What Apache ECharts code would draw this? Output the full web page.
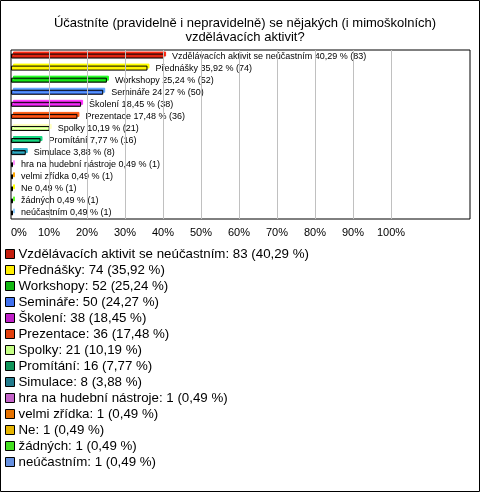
<!DOCTYPE html>
<html><head><meta charset="utf-8">
<script src="https://cdn.jsdelivr.net/npm/echarts@6/dist/echarts.min.js"></script>
<style>html,body{margin:0;padding:0;background:#fff}#c{width:480px;height:492px}</style>
</head><body><div id="c"></div>
<script>
const titleText = 'Účastníte (pravidelně i nepravidelně) se nějakých (i mimoškolních)\nvzdělávacích aktivit?';
const categories = ['Vzdělávacích aktivit se neúčastním','Přednášky','Workshopy','Semináře','Školení','Prezentace','Spolky','Promítání','Simulace','hra na hudební nástroje','velmi zřídka','Ne','žádných','neúčastním'];
const counts = [83,74,52,50,38,36,21,16,8,1,1,1,1,1];
const percents = [40.29,35.92,25.24,24.27,18.45,17.48,10.19,7.77,3.88,0.49,0.49,0.49,0.49,0.49];
const colors = ['#c41e0e','#ffee00','#12b812','#4070ee','#c020c8','#e2400e','#c4ff84','#10955a','#217a8c','#c462c8','#e67200','#e6b400','#44e020','#6690e0'];
const tickValues = [10,20,30,40,50,60,70,80,90,100];
const fmt = v => v.toFixed(2).replace('.', ',');

const chart = echarts.init(document.getElementById('c'), null, {renderer:'canvas'});
const FONT = '"Liberation Sans", Arial, sans-serif';
const series = categories.map((name, i) => {
  const data = categories.map((c, j) => j === i ? percents[i] : '-');
  const s = {
    name: name, type: 'bar', stack: 'all', barWidth: 5, barMinHeight: 2,
    data: data,
    itemStyle: {color: colors[i], borderColor: '#000', borderWidth: 1,
      shadowColor: echarts.color.lift(colors[i], -0.45), shadowOffsetX: 2, shadowOffsetY: -2, shadowBlur: 0},
    label: {show: true, position: 'right', distance: 8, color: '#000', fontSize: 9, fontFamily: FONT,
      formatter: () => name + ' ' + fmt(percents[i]) + ' % (' + counts[i] + ')'},
    emphasis: {disabled: true}, animation: false
  };
  if (i === 0) {
    s.markLine = {silent: true, symbol: ['none','none'], label: {show: false},
      lineStyle: {color: '#c0c0c0', type: 'solid', width: 1},
      data: tickValues.map(v => ({xAxis: v})), animation: false};
  }
  return s;
});

chart.setOption({
  animation: false,
  title: {text: titleText, left: 240, top: 11, textAlign: 'center',
    textStyle: {fontSize: 13, fontWeight: 'normal', color: '#000', fontFamily: FONT, lineHeight: 14, align: 'center'}},
  grid: {left: 11, top: 50, width: 459, height: 169, show: true, borderColor: '#000', borderWidth: 1, containLabel: false},
  xAxis: {type: 'value', min: 0, max: 120.8, interval: 10,
    axisLine: {show: false}, axisTick: {show: false}, splitLine: {show: false},
    axisLabel: {color: '#000', fontSize: 11, fontFamily: FONT, margin: 8, alignMinLabel: 'left', showMaxLabel: false,
      formatter: v => v <= 100 ? v + '%' : ''}},
  yAxis: {type: 'category', data: categories, inverse: true,
    axisLine: {show: false}, axisTick: {show: false}, axisLabel: {show: false}, splitLine: {show: false}},
  legend: {orient: 'vertical', left: 5, top: 247, padding: 0, itemWidth: 9, itemHeight: 9, itemGap: 2, icon: 'rect',
    selectedMode: false,
    itemStyle: {borderColor: '#000', borderWidth: 1, shadowBlur: 0, shadowOffsetX: 0, shadowOffsetY: 0},
    textStyle: {color: '#000', fontSize: 13.3, fontFamily: FONT, lineHeight: 14, padding: [0,0,0,-1]},
    formatter: name => { const i = categories.indexOf(name); return name + ': ' + counts[i] + ' (' + fmt(percents[i]) + ' %)'; },
    data: categories},
  graphic: [{type: 'rect', shape: {x: 0.5, y: 0.5, width: 479, height: 491}, style: {fill: 'none', stroke: '#000', lineWidth: 1}, silent: true}],
  series: series
});
</script></body></html>
